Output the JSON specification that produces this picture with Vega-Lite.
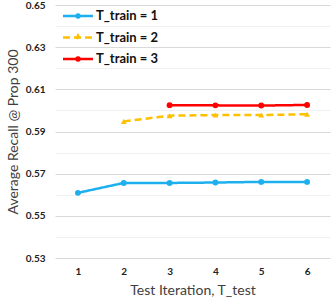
{
  "$schema": "https://vega.github.io/schema/vega-lite/v6.json",
  "width": 275,
  "height": 253,
  "autosize": {"type": "none"},
  "padding": {"left": 55, "top": 5, "right": 4, "bottom": 44},
  "background": "white",
  "config": {"view": {"stroke": null}, "font": "Lato"},
  "data": {"values": [
    {"iter": "1", "series": "T_train = 1", "recall": 0.5609},
    {"iter": "2", "series": "T_train = 1", "recall": 0.5656},
    {"iter": "3", "series": "T_train = 1", "recall": 0.5656},
    {"iter": "4", "series": "T_train = 1", "recall": 0.5658},
    {"iter": "5", "series": "T_train = 1", "recall": 0.5661},
    {"iter": "6", "series": "T_train = 1", "recall": 0.5661},
    {"iter": "2", "series": "T_train = 2", "recall": 0.5948},
    {"iter": "3", "series": "T_train = 2", "recall": 0.5975},
    {"iter": "4", "series": "T_train = 2", "recall": 0.5978},
    {"iter": "5", "series": "T_train = 2", "recall": 0.5978},
    {"iter": "6", "series": "T_train = 2", "recall": 0.5982},
    {"iter": "3", "series": "T_train = 3", "recall": 0.6025},
    {"iter": "4", "series": "T_train = 3", "recall": 0.6024},
    {"iter": "5", "series": "T_train = 3", "recall": 0.6023},
    {"iter": "6", "series": "T_train = 3", "recall": 0.6026}
  ]},
  "encoding": {
    "x": {
      "field": "iter", "type": "ordinal",
      "scale": {"type": "point", "padding": 0.5, "domain": ["1","2","3","4","5","6"]},
      "axis": {
        "title": "Test Iteration, T_test", "titleFontSize": 14, "titleFontWeight": "normal",
        "titleColor": "#404040", "titlePadding": 7,
        "labelAngle": 0, "labelFontWeight": "bold", "labelFontSize": 10, "labelColor": "#222222",
        "labelPadding": 8, "ticks": false, "domain": false, "grid": false
      }
    },
    "y": {
      "field": "recall", "type": "quantitative",
      "scale": {"domain": [0.53, 0.65], "nice": false, "zero": false},
      "axis": {
        "title": "Average Recall @ Prop 300", "titleFontSize": 14, "titleFontWeight": "normal",
        "titleColor": "#404040", "titlePadding": 5,
        "values": [0.53,0.54,0.55,0.56,0.57,0.58,0.59,0.60,0.61,0.62,0.63,0.64,0.65],
        "labelExpr": "round(datum.value*100) % 2 == 1 ? format(datum.value, '.2f') : ''",
        "labelFontWeight": "bold", "labelFontSize": 10, "labelColor": "#222222",
        "labelPadding": 10, "ticks": false, "domain": false,
        "gridColor": {"condition": {"test": "round(datum.value*100) % 2 == 1", "value": "#d9d9d9"}, "value": "#f0f0f0"},
        "gridWidth": 1.2
      }
    },
    "color": {
      "field": "series", "type": "nominal",
      "scale": {"domain": ["T_train = 1","T_train = 2","T_train = 3"], "range": ["#1EB0EE","#FFC000","#FF0000"]},
      "legend": {
        "title": null, "orient": "none", "legendX": 11, "legendY": -1, "padding": 0,
        "symbolType": "M-1.43,0H1.43M-0.15,0A0.15,0.15 0 1,0 0.15,0A0.15,0.15 0 1,0 -0.15,0",
        "symbolSize": 441, "symbolStrokeWidth": 2.5, "symbolFillColor": "transparent",
        "labelFontSize": 13, "labelFontWeight": "bold", "labelColor": "#111111",
        "rowPadding": 2.5, "labelOffset": 6,
        "encode": {
          "symbols": {
            "update": {
              "fill": {"value": "transparent"},
              "shape": {"signal": "datum.label == 'T_train = 2' ? 'M-1.43,0H1.43M-0.17,0.12L0,-0.18L0.17,0.12Z' : 'M-1.43,0H1.43M-0.15,0A0.15,0.15 0 1,0 0.15,0A0.15,0.15 0 1,0 -0.15,0'"}
            }
          }
        }
      }
    }
  },
  "layer": [
    {
      "mark": {"type": "line", "strokeWidth": 2.5},
      "encoding": {
        "strokeDash": {
          "field": "series", "type": "nominal",
          "scale": {"domain": ["T_train = 1","T_train = 2","T_train = 3"], "range": [[1,0],[7,4],[1,0]]}
        }
      }
    },
    {
      "transform": [{"filter": "datum.series != 'T_train = 2'"}],
      "mark": {"type": "point", "filled": true, "size": 35, "opacity": 1, "shape": "circle"}
    },
    {
      "transform": [{"filter": "datum.series == 'T_train = 2'"}],
      "mark": {"type": "point", "filled": true, "size": 35, "opacity": 1, "shape": "triangle-up"}
    }
  ]
}
